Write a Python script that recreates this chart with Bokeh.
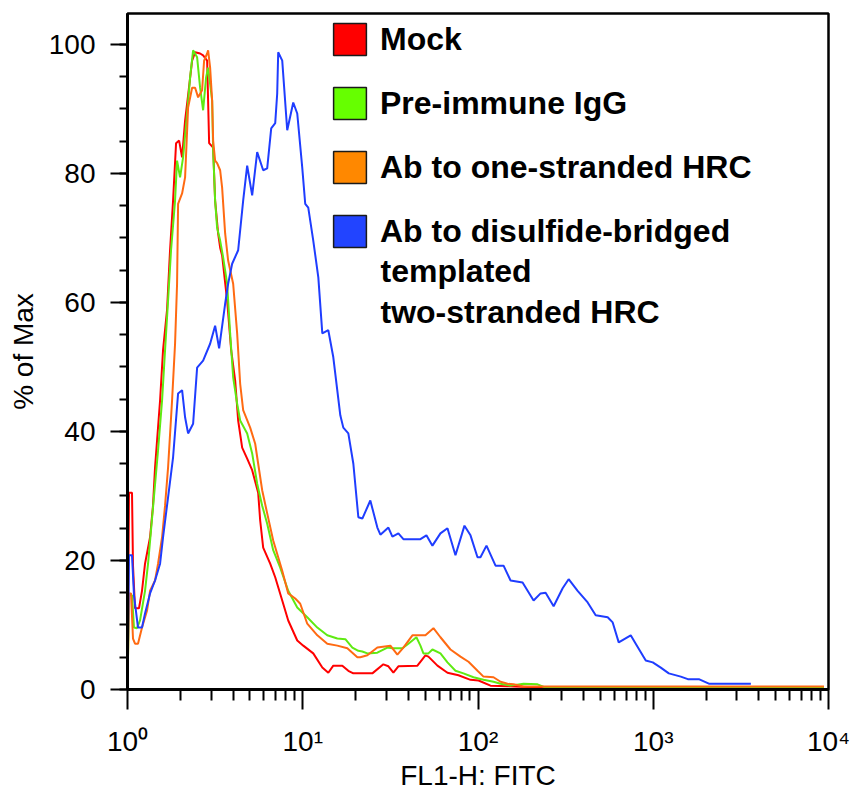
from bokeh.plotting import figure
from bokeh.models import (Range1d, FixedTicker, SingleIntervalTicker, Legend,
                          LegendItem, Label, CustomJSTickFormatter)
from bokeh.embed import file_html
from bokeh.resources import INLINE

# ---------------- data ----------------
series_names = ["Mock", "Pre-immune IgG", "Ab to one-stranded HRC", "Ab to disulfide-bridged"]
legend_extra_lines = ["templated", "two-stranded HRC"]

fl1_mock = [1.0, 1.02, 1.061, 1.075, 1.104, 1.163, 1.21, 1.259, 1.345, 1.398, 1.436, 1.534, 1.595,
            1.681, 1.749, 1.82, 1.893, 1.97, 2.049, 2.131, 2.217, 2.337, 2.431, 2.596, 2.701, 2.847,
            2.923, 3.081, 3.162, 3.289, 3.378, 3.467, 3.703, 3.904, 4.115, 4.28, 4.511, 4.818, 5.145,
            5.568, 5.716, 5.946, 6.52, 6.964, 7.637, 8.263, 9.302, 10.07, 11.48, 12.93, 13.99, 14.94,
            16.82, 18.2, 19.44, 24.95, 28.84, 30.81, 32.9, 35.13, 45.12, 50.12, 52.13, 58.69, 66.95,
            77.37, 90.62, 100.7, 117.9, 147.5, 227.6, 9427]
pct_mock = [0, 30.5, 30.5, 19.2, 12.6, 12.6, 15.3, 19.5, 23.6, 28.5, 34.4, 44.8, 52.6,
            58.8, 68.1, 75.8, 84.7, 85.1, 82.5, 88.2, 92.1, 97.5, 98.8, 98.6, 98.3, 97.5,
            84.7, 84.0, 75.8, 70.7, 68.5, 67.3, 60.3, 52.6, 47.9, 41.7, 37.5, 35.8, 34.0,
            30.5, 26.2, 22.0, 19.5, 17.4, 13.8, 10.7, 7.6, 6.8, 5.6, 3.4, 2.6, 3.7,
            3.7, 2.9, 2.5, 2.5, 3.9, 3.6, 2.6, 3.6, 3.7, 5.3, 5.1, 3.7, 2.6,
            2.2, 1.5, 1.4, 0.6, 0.5, 0.3, 0.3]

fl1_igg = [1.0, 1.02, 1.061, 1.089, 1.133, 1.179, 1.259, 1.31, 1.398, 1.494, 1.575, 1.638, 1.704,
           1.772, 1.868, 1.918, 1.995, 2.076, 2.188, 2.276, 2.368, 2.496, 2.596, 2.701, 2.809, 2.884,
           3.041, 3.081, 3.162, 3.246, 3.378, 3.513, 3.703, 3.852, 4.008, 4.224, 4.394, 4.818, 5.145,
           5.495, 5.868, 6.268, 6.783, 7.438, 8.263, 9.302, 10.61, 12.11, 13.8, 15.75, 17.5, 19.19,
           20.76, 21.88, 23.37, 26.65, 30.4, 32.47, 37.03, 40.08, 44.52, 46.93, 48.81, 52.13, 54.95,
           61.05, 66.95, 74.37, 82.62, 94.27, 107.5, 122.6, 134.5, 153.4, 182.0, 218.8, 243.1, 9427]
pct_igg = [0, 14.6, 14.6, 9.6, 9.5, 10.7, 15.3, 19.5, 28.2, 37.1, 44.8, 52.6, 60.3,
           68.1, 75.8, 82.0, 79.4, 82.5, 89.3, 94.9, 99.1, 98.0, 93.3, 89.8, 94.9, 96.4,
           91.3, 83.6, 75.8, 71.6, 69.6, 67.0, 62.9, 55.2, 48.4, 44.3, 41.7, 39.7, 36.6,
           31.9, 28.5, 25.7, 21.6, 18.9, 15.3, 12.7, 11.2, 9.6, 8.4, 7.9, 7.8, 6.5,
           6.0, 5.9, 5.6, 5.7, 6.5, 6.4, 6.4, 7.1, 8.1, 6.8, 5.6, 5.6, 6.2,
           5.6, 4.2, 2.9, 2.5, 1.9, 1.5, 1.2, 0.9, 0.6, 0.9, 0.8, 0.3, 0.3]

fl1_one = [1.0, 1.02, 1.047, 1.075, 1.104, 1.148, 1.21, 1.292, 1.345, 1.436, 1.494, 1.575, 1.638,
           1.704, 1.796, 1.868, 1.918, 1.944, 2.049, 2.131, 2.217, 2.337, 2.431, 2.529, 2.665, 2.736,
           2.847, 2.884, 2.961, 3.041, 3.081, 3.162, 3.246, 3.378, 3.467, 3.607, 3.752, 4.008, 4.224,
           4.394, 4.571, 5.012, 5.353, 5.568, 5.868, 6.268, 6.783, 7.637, 8.263, 9.061, 9.676, 10.61,
           12.11, 13.8, 15.75, 17.96, 20.49, 21.31, 23.37, 26.65, 31.62, 34.67, 37.52, 42.24, 50.12,
           55.68, 61.05, 69.65, 79.43, 88.26, 99.34, 107.5, 122.6, 134.5, 147.5, 159.6, 182.0, 9427]
pct_one = [0, 14.9, 14.9, 7.9, 7.1, 7.1, 9.6, 12.2, 15.3, 16.9, 19.5, 23.6, 28.5,
           34.4, 44.8, 53.6, 62.9, 75.3, 76.9, 79.4, 90.2, 93.3, 93.3, 91.8, 92.9, 97.5,
           98.6, 99.1, 96.4, 91.3, 85.1, 82.0, 81.6, 80.5, 77.8, 70.7, 66.5, 62.9, 55.2,
           47.4, 43.3, 40.6, 38.1, 35.0, 30.9, 27.3, 23.1, 18.4, 14.9, 14.1, 13.3, 10.2,
           8.4, 7.1, 6.8, 6.4, 5.0, 5.0, 5.3, 6.5, 6.8, 5.4, 6.5, 8.4, 8.4,
           9.5, 8.1, 6.2, 5.1, 4.3, 2.9, 2.0, 1.9, 1.2, 0.9, 0.8, 0.45, 0.45]

fl1_two = [1.0, 1.02, 1.061, 1.089, 1.148, 1.21, 1.259, 1.345, 1.436, 1.534, 1.595, 1.704, 1.82,
           1.944, 2.049, 2.131, 2.217, 2.368, 2.496, 2.701, 2.961, 3.162, 3.333, 3.607, 3.752, 3.955,
           4.28, 4.571, 4.818, 5.145, 5.495, 5.946, 6.268, 6.607, 6.964, 7.149, 7.244, 7.637, 8.155,
           8.826, 9.302, 9.934, 10.33, 10.75, 11.48, 12.27, 12.93, 13.99, 14.94, 16.38, 17.04, 18.2,
           19.44, 20.76, 21.88, 24.3, 26.65, 27.73, 30.81, 32.47, 35.13, 37.52, 46.93, 50.78, 54.95,
           61.05, 66.95, 74.37, 83.72, 90.62, 99.34, 103.3, 111.8, 125.9, 139.9, 153.4, 179.6, 207.6,
           227.6, 243.1, 270.1, 304.1, 329.0, 370.3, 422.4, 469.4, 549.5, 586.9, 635.2, 743.8, 794.3,
           906.2, 993.4, 1104, 1227, 1436, 1575, 1820, 2076, 3607]
pct_two = [0, 20.8, 20.8, 14.6, 9.6, 9.6, 11.8, 14.9, 16.9, 19.5, 23.6, 29.8, 36.0,
           45.9, 46.4, 42.2, 39.7, 41.2, 49.9, 51.0, 53.6, 56.4, 52.9, 59.8, 62.9, 66.0,
           68.1, 75.8, 81.2, 76.6, 83.3, 80.5, 80.8, 87.0, 87.8, 92.4, 98.8, 97.5, 86.7,
           91.0, 89.3, 80.9, 75.3, 74.7, 69.6, 63.9, 55.2, 55.7, 51.5, 42.5, 40.6, 39.7,
           35.0, 26.7, 26.5, 29.3, 25.1, 24.0, 25.1, 23.7, 24.2, 23.3, 23.3, 23.9, 22.3,
           24.2, 25.0, 20.8, 25.4, 23.9, 20.5, 20.5, 22.3, 19.2, 19.2, 16.9, 16.6, 13.8,
           14.9, 15.0, 12.9, 15.7, 17.1, 15.3, 13.5, 11.5, 11.2, 10.4, 7.3, 8.4, 7.1,
           4.5, 4.2, 3.4, 2.5, 2.0, 1.6, 1.6, 0.9, 0.9]

x_tick_values = [1, 10, 100, 1000, 10000]
x_tick_labels = ["10\u2070", "10\u00b9", "10\u00b2", "10\u00b3", "10\u2074"]
x_minor_ticks = [m * d for d in [1, 10, 100, 1000] for m in range(2, 10)]

line_colors = ["#FF0000", "#5FEA12", "#FF6A12", "#1F3DFF"]
swatch_colors = ["#FF0000", "#66FF00", "#FF8800", "#2244FF"]

FONT = "Liberation Sans"

# ---------------- figure ----------------
p = figure(width=854, height=793, x_axis_type="log",
           x_range=Range1d(1, 10000), y_range=Range1d(0, 104.8),
           output_backend="svg", toolbar_location=None, title=None,
           min_border_left=127, min_border_right=26, min_border_top=13, min_border_bottom=104)
p.background_fill_color = "white"
p.border_fill_color = "white"
p.outline_line_color = "black"
p.outline_line_width = 2.5
p.xgrid.visible = False
p.ygrid.visible = False

# y axis
p.yaxis.ticker = SingleIntervalTicker(interval=20, num_minor_ticks=4)
p.yaxis.axis_line_width = 3
p.yaxis.axis_line_color = "black"
p.yaxis.major_tick_in = 0
p.yaxis.major_tick_out = 17
p.yaxis.minor_tick_in = 0
p.yaxis.minor_tick_out = 8
p.yaxis.major_tick_line_width = 2
p.yaxis.minor_tick_line_width = 2
p.yaxis.major_tick_line_color = "black"
p.yaxis.minor_tick_line_color = "black"
p.yaxis.major_label_text_font = FONT
p.yaxis.major_label_text_font_size = "28px"
p.yaxis.major_label_text_color = "black"
p.yaxis.major_label_standoff = 15
p.yaxis.axis_label = "% of Max"
p.yaxis.axis_label_text_font = FONT
p.yaxis.axis_label_text_font_size = "28px"
p.yaxis.axis_label_text_font_style = "normal"
p.yaxis.axis_label_text_color = "black"
p.yaxis.axis_label_standoff = 7

# x axis
p.xaxis.ticker = FixedTicker(ticks=x_tick_values, minor_ticks=x_minor_ticks)
p.xaxis.formatter = CustomJSTickFormatter(
    args=dict(tick_vals=x_tick_values, tick_texts=x_tick_labels),
    code="""
        for (let k = 0; k < tick_vals.length; k++) {
            if (Math.abs(tick_vals[k] - tick) < 1e-6 * tick_vals[k]) { return tick_texts[k]; }
        }
        return '';
    """)
p.xaxis.axis_line_width = 3
p.xaxis.axis_line_color = "black"
p.xaxis.major_tick_in = 0
p.xaxis.major_tick_out = 20
p.xaxis.minor_tick_in = 0
p.xaxis.minor_tick_out = 11
p.xaxis.major_tick_line_width = 2
p.xaxis.minor_tick_line_width = 2
p.xaxis.major_tick_line_color = "black"
p.xaxis.minor_tick_line_color = "black"
p.xaxis.major_label_text_font = FONT
p.xaxis.major_label_text_font_size = "28px"
p.xaxis.major_label_text_color = "black"
p.xaxis.major_label_standoff = 16
p.xaxis.axis_label = "FL1-H: FITC"
p.xaxis.axis_label_text_font = FONT
p.xaxis.axis_label_text_font_size = "28px"
p.xaxis.axis_label_text_font_style = "normal"
p.xaxis.axis_label_text_color = "black"
p.xaxis.axis_label_standoff = 0

# curves
xs = [fl1_mock, fl1_igg, fl1_one, fl1_two]
ys = [pct_mock, pct_igg, pct_one, pct_two]
for x, y, c in zip(xs, ys, line_colors):
    p.line(x, y, line_color=c, line_width=2)

# legend swatches: area renderers holding a single empty (NaN) entry
nan = float("nan")
items = []
for name, c in zip(series_names, swatch_colors):
    r = p.quad(left=[nan], right=[nan], top=[nan], bottom=[nan], fill_color=c,
               line_color="#1a1a1a", line_width=1.5)
    items.append(LegendItem(label=name, renderers=[r]))

legend = Legend(items=items, location=(202, 438), glyph_width=41, glyph_height=40,
                label_standoff=10, spacing=24, padding=0, margin=0,
                border_line_color=None, background_fill_alpha=0,
                label_text_font=FONT, label_text_font_style="bold",
                label_text_font_size="32px", label_text_color="black", label_height=40)
p.add_layout(legend)

for txt, ys_ in zip(legend_extra_lines, [419, 378]):
    p.add_layout(Label(x=253, y=ys_, x_units="screen", y_units="screen", text=txt,
                       text_font=FONT, text_font_style="bold", text_font_size="32px",
                       text_color="black", text_align="left", text_baseline="alphabetic"))

open("out.html", "w").write(file_html(p, INLINE))
